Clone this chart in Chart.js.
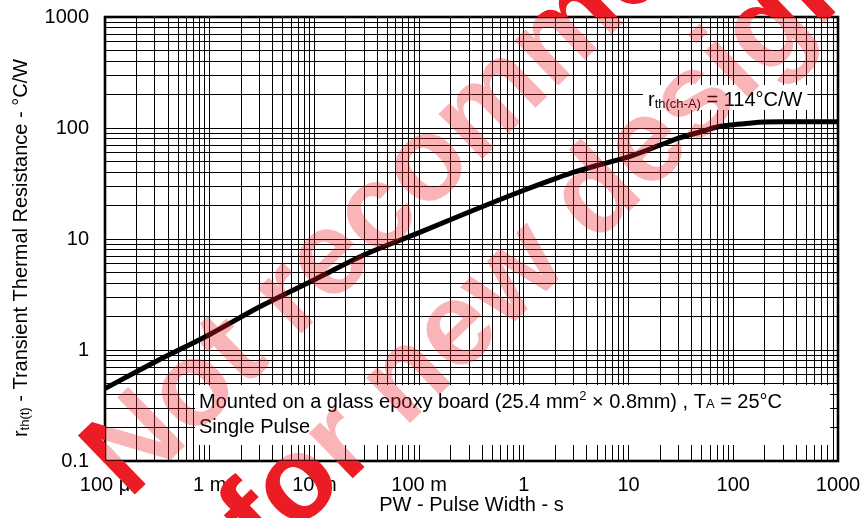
<!DOCTYPE html>
<html><head><meta charset="utf-8">
<script src="https://cdn.jsdelivr.net/npm/chart.js@4/dist/chart.umd.min.js"></script>
<style>html,body{margin:0;padding:0;background:#fff;overflow:hidden}</style>
</head><body>
<canvas id="c" width="866" height="518" style="width:866px;height:518px;display:block"></canvas>
<script>
// ---- data ----
const pulseWidth = [1e-4, 3e-4, 1e-3, 3e-3, 1e-2, 3e-2, 0.1, 0.3, 1, 2, 3, 5, 7, 10, 20, 30, 50, 70, 100, 150, 200, 300, 500, 1000];
const thermalRes = [0.45, 0.78, 1.38, 2.45, 4.3, 7.2, 11.4, 17.5, 27.5, 35, 40, 46, 50, 55, 70, 81, 93, 102, 107, 111, 113, 114, 114, 114];
const xDecades = [1e-4, 1e-3, 1e-2, 1e-1, 1, 10, 100, 1000];
const xTickLabels = ['100 μ', '1 m', '10 m', '100 m', '1', '10', '100', '1000'];
const yDecades = [0.1, 1, 10, 100, 1000];
const yTickLabels = ['0.1', '1', '10', '100', '1000'];
const minorSteps = [1, 2, 3, 4, 5, 6, 7, 8, 9];
const xTitle = 'PW - Pulse Width - s';
const yTitleParts = ['r', 'th(t)', ' - Transient Thermal Resistance - °C/W'];
const noteLine1 = ['Mounted on a glass epoxy board (25.4 mm', '2', ' × 0.8mm) , T', 'A', ' = 25°C'];
const noteLine2 = 'Single Pulse';
const rthParts = ['r', 'th(ch-A)', ' = 114°C/W'];
const watermark = ['Not recommended', 'for new design'];

const FONT = "'Liberation Sans', Arial, Helvetica, sans-serif";

function gridValues(decades) {
  const out = [];
  decades.forEach((d, i) => {
    if (i === decades.length - 1) { out.push(d); return; }
    minorSteps.forEach(m => out.push(d * m));
  });
  return out;
}
const xGrid = gridValues(xDecades);
const yGrid = gridValues(yDecades);
function labelFor(decs, labs, v) {
  const i = decs.findIndex(d => Math.abs(d - v) / d < 1e-6);
  return i >= 0 ? labs[i] : '';
}

function drawSegments(ctx, segs, x, y) {
  let cx = x;
  segs.forEach(s => {
    ctx.font = s.size + 'px ' + FONT;
    ctx.fillText(s.t, cx, y + s.dy);
    cx += ctx.measureText(s.t).width;
  });
  return cx;
}
function segWidth(ctx, segs) {
  let w = 0;
  segs.forEach(s => { ctx.font = s.size + 'px ' + FONT; w += ctx.measureText(s.t).width; });
  return w;
}

const deco = {
  id: 'deco',
  beforeDraw(chart) {
    const ctx = chart.ctx;
    ctx.save(); ctx.fillStyle = '#fff'; ctx.fillRect(0, 0, chart.width, chart.height); ctx.restore();
  },
  afterDatasetsDraw(chart) {
    const { ctx, chartArea: a } = chart;
    ctx.save();
    ctx.lineWidth = 2.6; ctx.strokeStyle = '#000';
    ctx.strokeRect(a.left, a.top, a.right - a.left, a.bottom - a.top);
    // note box
    ctx.fillStyle = '#fff';
    ctx.fillRect(a.left + 90, a.bottom - 76, 635, 60);
    ctx.fillStyle = '#000';
    ctx.textBaseline = 'alphabetic'; ctx.textAlign = 'left';
    drawSegments(ctx, [
      { t: noteLine1[0], size: 20, dy: 0 }, { t: noteLine1[1], size: 13, dy: -8 },
      { t: noteLine1[2], size: 20, dy: 0 }, { t: noteLine1[3], size: 13, dy: 0 },
      { t: noteLine1[4], size: 20, dy: 0 }], a.left + 94, a.bottom - 53);
    drawSegments(ctx, [{ t: noteLine2, size: 20, dy: 0 }], a.left + 94, a.bottom - 28);
    // rth label
    const segs = [{ t: rthParts[0], size: 20, dy: 0 }, { t: rthParts[1], size: 13, dy: 2 }, { t: rthParts[2], size: 20, dy: 0 }];
    const w = segWidth(ctx, segs);
    ctx.fillStyle = '#fff';
    ctx.fillRect(a.left + 538, a.top + 68, w + 10, 25);
    ctx.fillStyle = '#000';
    drawSegments(ctx, segs, a.left + 543, a.top + 89);
    ctx.restore();
  },
  afterDraw(chart) {
    const { ctx, chartArea: a } = chart;
    // y title
    ctx.save();
    ctx.fillStyle = '#000'; ctx.textBaseline = 'alphabetic'; ctx.textAlign = 'left';
    const ys = [{ t: yTitleParts[0], size: 20, dy: 0 }, { t: yTitleParts[1], size: 13, dy: 2 }, { t: yTitleParts[2], size: 20, dy: 0 }];
    const yw = segWidth(ctx, ys);
    ctx.translate(27, (a.top + a.bottom) / 2 + 9);
    ctx.rotate(-Math.PI / 2);
    drawSegments(ctx, ys, -yw / 2, 0);
    ctx.restore();
    // watermark
    const wm = (fill) => {
      ctx.fillStyle = fill;
      ctx.font = 'bold 119px ' + FONT;
      ctx.textBaseline = 'alphabetic'; ctx.textAlign = 'left';
      const ang = -44 * Math.PI / 180;
      const pos = [[129, 500], [266, 562]];
      watermark.forEach((t, i) => {
        ctx.save(); ctx.translate(pos[i][0], pos[i][1]); ctx.rotate(ang); ctx.fillText(t, 0, 0); ctx.restore();
      });
    };
    ctx.save();
    ctx.beginPath();
    ctx.rect(0, 0, chart.width, chart.height);
    ctx.rect(a.left, a.top, a.right - a.left, a.bottom - a.top);
    ctx.clip('evenodd');
    wm('rgb(236,28,36)');
    ctx.restore();
    ctx.save();
    ctx.beginPath();
    ctx.rect(a.left, a.top, a.right - a.left, a.bottom - a.top);
    ctx.clip();
    wm('rgba(236,28,36,0.33)');
    ctx.restore();
  }
};

Chart.defaults.font.family = FONT;
Chart.defaults.color = '#000';

new Chart(document.getElementById('c'), {
  type: 'line',
  data: {
    datasets: [{
      data: pulseWidth.map((x, i) => ({ x, y: thermalRes[i] })),
      borderColor: '#000',
      borderWidth: 5,
      pointRadius: 0,
      fill: false,
      cubicInterpolationMode: 'monotone',
      clip: 0
    }]
  },
  options: {
    responsive: false,
    animation: false,
    devicePixelRatio: 1,
    layout: { padding: { top: 17, right: 28, left: 0, bottom: 1 } },
    plugins: { legend: { display: false }, tooltip: { enabled: false } },
    scales: {
      x: {
        type: 'logarithmic', min: 1e-4, max: 1000,
        afterBuildTicks: s => { s.ticks = xGrid.map(v => ({ value: v })); },
        afterFit: s => { s.height = 56; s.paddingLeft = 0; s.paddingRight = 0; },
        grid: { color: '#000', lineWidth: 1, drawTicks: false },
        border: { display: false },
        ticks: { autoSkip: false, maxRotation: 0, padding: 12, font: { size: 20 },
          callback: v => labelFor(xDecades, xTickLabels, v) },
        title: { display: true, text: xTitle, font: { size: 20 }, padding: { top: 0, bottom: 0 } }
      },
      y: {
        type: 'logarithmic', min: 0.1, max: 1000,
        afterBuildTicks: s => { s.ticks = yGrid.map(v => ({ value: v })); },
        afterFit: s => { s.width = 105; s.paddingTop = 0; s.paddingBottom = 0; },
        grid: { color: '#000', lineWidth: 1, drawTicks: false },
        border: { display: false },
        ticks: { autoSkip: false, padding: 16, font: { size: 20 },
          callback: v => labelFor(yDecades, yTickLabels, v) }
      }
    }
  },
  plugins: [deco]
});
</script>
</body></html>
